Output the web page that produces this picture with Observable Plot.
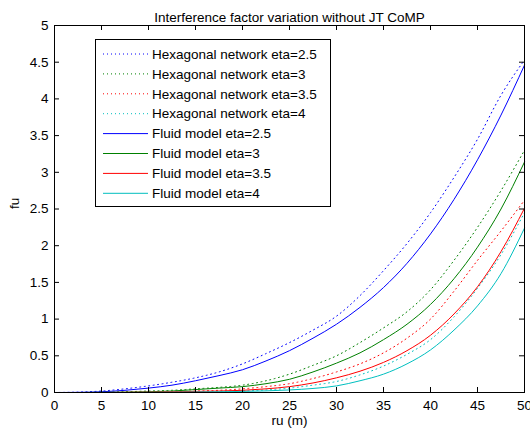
<!DOCTYPE html>
<html><head><meta charset="utf-8">
<script src="https://cdn.jsdelivr.net/npm/d3@7"></script>
<script src="https://cdn.jsdelivr.net/npm/@observablehq/plot@0.6"></script>
<style>
body{margin:0;background:#fff;}
#chart{width:530px;height:435px;}
</style></head><body><div id="chart"></div>
<script>
const titleText = "Interference factor variation without JT CoMP";
const xLabel = "ru (m)";
const yLabel = "fu";
const ru = [0, 2.5, 5, 7.5, 10, 12.5, 15, 17.5, 20, 22.5, 25, 27.5, 30, 32.5, 35, 37.5, 40, 42.5, 45, 47.5, 50];
const hex25 = [0, 0.005, 0.02, 0.05, 0.09, 0.14, 0.2, 0.28, 0.39, 0.53, 0.68, 0.85, 1.04, 1.32, 1.66, 2.03, 2.45, 2.93, 3.45, 4.05, 4.53];
const hex3 = [0, 0, 0.005, 0.01, 0.02, 0.03, 0.05, 0.07, 0.1, 0.16, 0.25, 0.37, 0.5, 0.68, 0.88, 1.1, 1.4, 1.8, 2.25, 2.75, 3.3];
const hex35 = [0, 0, 0, 0.002, 0.005, 0.01, 0.02, 0.03, 0.05, 0.08, 0.12, 0.19, 0.28, 0.39, 0.54, 0.74, 1.0, 1.38, 1.8, 2.2, 2.62];
const hex4 = [0, 0, 0, 0, 0.003, 0.005, 0.01, 0.015, 0.02, 0.035, 0.06, 0.1, 0.15, 0.24, 0.36, 0.52, 0.72, 1.03, 1.42, 1.88, 2.45];
const fluid25 = [0, 0.002, 0.01, 0.03, 0.06, 0.1, 0.16, 0.23, 0.31, 0.43, 0.57, 0.74, 0.93, 1.16, 1.43, 1.76, 2.16, 2.63, 3.17, 3.78, 4.46];
const fluid3 = [0, 0, 0.002, 0.005, 0.01, 0.02, 0.04, 0.06, 0.08, 0.12, 0.18, 0.28, 0.4, 0.54, 0.72, 0.93, 1.2, 1.55, 1.98, 2.5, 3.14];
const fluid35 = [0, 0, 0, 0.002, 0.005, 0.01, 0.015, 0.02, 0.03, 0.05, 0.08, 0.13, 0.2, 0.29, 0.41, 0.57, 0.78, 1.07, 1.44, 1.92, 2.51];
const fluid4 = [0, 0, 0, 0, 0.002, 0.004, 0.007, 0.01, 0.015, 0.022, 0.035, 0.055, 0.09, 0.16, 0.25, 0.39, 0.58, 0.85, 1.18, 1.62, 2.24];
const seriesNames = ["Hexagonal network eta=2.5", "Hexagonal network eta=3", "Hexagonal network eta=3.5", "Hexagonal network eta=4",
  "Fluid model eta=2.5", "Fluid model eta=3", "Fluid model eta=3.5", "Fluid model eta=4"];
const seriesValues = [hex25, hex3, hex35, hex4, fluid25, fluid3, fluid35, fluid4];
const seriesColors = ["#0000ff", "#008000", "#ff0000", "#00bfbf", "#0000ff", "#008000", "#ff0000", "#00bfbf"];
const seriesDotted = [true, true, true, true, false, false, false, false];
const xTicks = [0, 5, 10, 15, 20, 25, 30, 35, 40, 45, 50];
const yTicks = [0, 0.5, 1, 1.5, 2, 2.5, 3, 3.5, 4, 4.5, 5];

const rows = [];
seriesNames.forEach((name, i) => seriesValues[i].forEach((v, j) => rows.push({series: name, idx: i, ru: ru[j], fu: v})));

const W = 530, H = 435, mL = 54, mR = 6, mT = 25, mB = 43;
const innerW = W - mL - mR, innerH = H - mT - mB, tk = 5;
const font = "'Liberation Sans', Arial, sans-serif";
const lineMarks = seriesNames.map((name, i) => Plot.line(rows.filter(r => r.idx === i), {
  x: "ru", y: "fu", stroke: seriesColors[i], strokeWidth: 1, curve: "monotone-x",
  strokeDasharray: seriesDotted[i] ? "1,3.5" : null
}));

const plot = Plot.plot({
  width: W, height: H,
  marginLeft: mL, marginRight: mR, marginTop: mT, marginBottom: mB,
  style: {fontFamily: font, fontSize: "13.5px", color: "#000", background: "#fff", overflow: "visible"},
  x: {domain: [0, 50]},
  y: {domain: [0, 5]},
  marks: [
    ...lineMarks,
    Plot.frame({stroke: "#000"}),
    // inward tick marks on all four sides
    Plot.tickX(xTicks, {x: d => d, stroke: "#000", insetTop: innerH - tk}),
    Plot.tickX(xTicks, {x: d => d, stroke: "#000", insetBottom: innerH - tk}),
    Plot.tickY(yTicks, {y: d => d, stroke: "#000", insetRight: innerW - tk}),
    Plot.tickY(yTicks, {y: d => d, stroke: "#000", insetLeft: innerW - tk}),
    Plot.axisX({anchor: "bottom", ticks: xTicks, tickSize: 0, tickPadding: 8, label: null, fontSize: 13.5}),
    Plot.axisY({anchor: "left", ticks: yTicks, tickSize: 0, tickPadding: 6, tickFormat: d => String(d), label: null, fontSize: 13.5}),
    Plot.text([titleText], {frameAnchor: "top", dy: -13, fontSize: 13.5}),
    Plot.text([xLabel], {frameAnchor: "bottom", dy: 32, fontSize: 13.5}),
    Plot.text([yLabel], {frameAnchor: "left", dx: -40, rotate: -90, fontSize: 13.5})
  ]
});
document.getElementById("chart").appendChild(plot);

// legend inside the axes (upper left)
const svg = d3.select(plot);
const lg = svg.append("g").attr("font-family", font).attr("font-size", 13.5).attr("text-anchor", "start");
lg.append("rect").attr("x", 95.5).attr("y", 39.5).attr("width", 235).attr("height", 167)
  .attr("fill", "#fff").attr("stroke", "#000");
seriesNames.forEach((name, i) => {
  const y = 54 + i * 19.9;
  lg.append("line").attr("x1", 103).attr("x2", 148).attr("y1", y).attr("y2", y)
    .attr("stroke", seriesColors[i]).attr("stroke-width", 1)
    .attr("stroke-dasharray", seriesDotted[i] ? "1,3" : null);
  lg.append("text").attr("x", 152).attr("y", y).attr("dy", "0.35em").attr("text-anchor", "start").text(name);
});
</script></body></html>
